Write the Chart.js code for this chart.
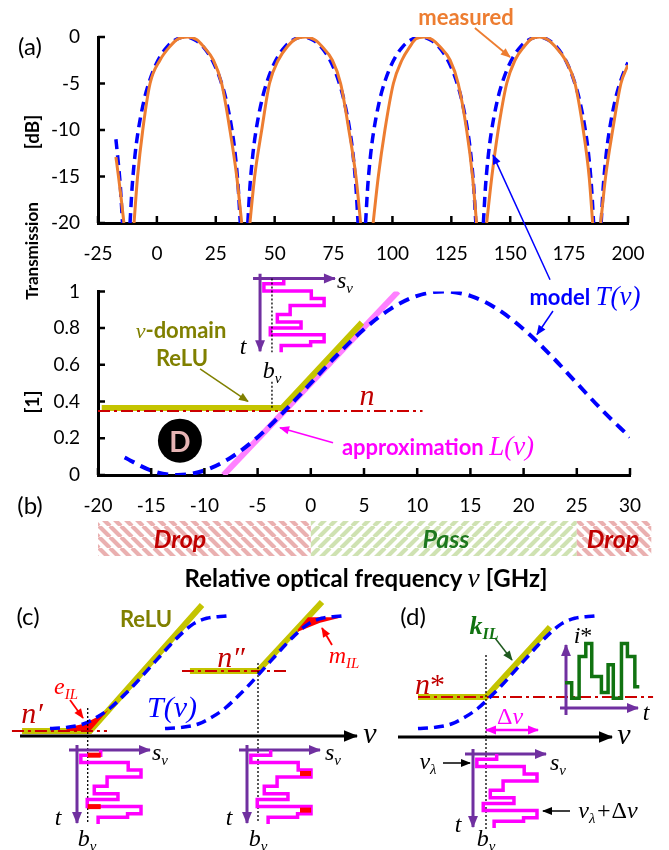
<!DOCTYPE html>
<html>
<head>
<meta charset="utf-8">
<title>Frequency-domain ReLU</title>
<script src="https://cdn.jsdelivr.net/npm/chart.js@4.4.1/dist/chart.umd.min.js"></script>
<style>
  body { margin: 0; background: #fff; }
  #fig { position: relative; width: 669px; height: 850px; overflow: hidden; font-family: Lato, sans-serif; }
  #fig canvas { position: absolute; left: 0; }
  .lbl { position: absolute; transform: translate(-50%, -50%); white-space: nowrap; line-height: 1; }
  .m { font-family: "Liberation Serif", serif; font-style: italic; font-weight: 400; }
  .up { font-style: normal; }
  .sb { font-size: 0.62em; position: relative; top: 0.32em; }
</style>
</head>
<body>
<div id="fig">
  <canvas id="chartA" width="669" height="300" style="top:0"></canvas>
  <canvas id="chartB" width="669" height="338" style="top:262px"></canvas>
  <canvas id="chartCD" width="669" height="250" style="top:600px"></canvas>
</div>
<script>
"use strict";

// ---------- (a) transmission in dB ----------
const xTicksA = [-25, 0, 25, 50, 75, 100, 125, 150, 175, 200];
const yTicksA = [-20, -15, -10, -5, 0];

const measFreq = [
  -17.4, -16.3, -15.1, -14.0, -11.9,
  -9.7, -8.2, -6.0, -2.9, 1.3, 5.6, 9.0, 13.0, 17.0, 19.7, 24.0, 27.5, 31.0, 33.9, 36.0, 37.8,
  39.5, 41.5, 44.5, 47.8, 51.5, 55.5, 59.0, 63.0, 67.0, 70.0, 74.5, 78.0, 81.5, 84.5, 86.5, 89.0,
  91.8, 94.0, 96.8, 100.4, 104.0, 107.5, 110.0, 113.5, 117.0, 120.0, 124.5, 127.9, 131.5, 134.0, 135.7, 138.0,
  140.0, 142.2, 144.9, 148.5, 152.0, 156.0, 159.0, 162.6, 166.0, 169.0, 173.5, 177.5, 181.0, 183.5, 185.0, 186.7,
  188.4, 190.5, 193.5, 197.0, 200.0
];
const measDb = [
  -12.9, -15, -17.5, -20, null,
  -20, -15, -10, -5, -2.5, -1, -0.2, 0, -0.3, -1, -2.5, -5, -10, -15, -20, null,
  -20, -15, -10, -5, -2.5, -1, -0.2, 0, -0.3, -1, -2.5, -5, -10, -15, -20, null,
  -20, -15, -10, -5, -2.5, -1, -0.2, 0, -0.3, -1, -2.5, -5, -10, -15, -20, null,
  -20, -15, -10, -5, -2.5, -1, -0.2, 0, -0.3, -1, -2.5, -5, -10, -15, -20, null,
  -20, -15, -10, -5, -3
];

const modelFreqA = [
  -17.4, -16.75, -15.5, -14.6, -12.9,
  -11.4, -10.5, -9.25, -8, -5.5, -3, -0.5, 2, 4.5, 7, 9.5, 12, 14.5, 17, 19.5, 22, 24.5, 27, 29.5, 32, 33.25, 34.5, 35.4, 37,
  38.6, 39.5, 40.75, 42, 44.5, 47, 49.5, 52, 54.5, 57, 59.5, 62, 64.5, 67, 69.5, 72, 74.5, 77, 79.5, 82, 83.25, 84.5, 85.4, 87,
  88.6, 89.5, 90.75, 92, 94.5, 97, 99.5, 102, 104.5, 107, 109.5, 112, 114.5, 117, 119.5, 122, 124.5, 127, 129.5, 132, 133.25, 134.5, 135.4, 137,
  138.6, 139.5, 140.75, 142, 144.5, 147, 149.5, 152, 154.5, 157, 159.5, 162, 164.5, 167, 169.5, 172, 174.5, 177, 179.5, 182, 183.25, 184.5, 185.4, 187,
  188.6, 189.5, 190.75, 192, 194.5, 197, 199.5, 200
];
const modelDbA = [
  -11.0, -12.6, -16.1, -20, null,
  -20, -16.1, -12.6, -10.2, -6.86, -4.62, -3.01, -1.84, -1.0, -0.44, -0.11, 0, -0.11, -0.44, -1.0, -1.84, -3.01, -4.62, -6.86, -10.2, -12.6, -16.1, -20, null,
  -20, -16.1, -12.6, -10.2, -6.86, -4.62, -3.01, -1.84, -1.0, -0.44, -0.11, 0, -0.11, -0.44, -1.0, -1.84, -3.01, -4.62, -6.86, -10.2, -12.6, -16.1, -20, null,
  -20, -16.1, -12.6, -10.2, -6.86, -4.62, -3.01, -1.84, -1.0, -0.44, -0.11, 0, -0.11, -0.44, -1.0, -1.84, -3.01, -4.62, -6.86, -10.2, -12.6, -16.1, -20, null,
  -20, -16.1, -12.6, -10.2, -6.86, -4.62, -3.01, -1.84, -1.0, -0.44, -0.11, 0, -0.11, -0.44, -1.0, -1.84, -3.01, -4.62, -6.86, -10.2, -12.6, -16.1, -20, null,
  -20, -16.1, -12.6, -10.2, -6.86, -4.62, -3.01, -2.75
];

// ---------- (b) linear transmission around one slope ----------
const xTicksB = [-20, -15, -10, -5, 0, 5, 10, 15, 20, 25, 30];
const yTicksB = [0, 0.2, 0.4, 0.6, 0.8, 1];
const freqB = [-17.5, -15, -12.5, -10, -7.5, -5, -2.5, 0, 2.5, 5, 7.5, 10, 12.5, 15, 17.5, 20, 22.5, 25, 27.5, 30];
const transB = [0.0955, 0.0245, 0, 0.0245, 0.0955, 0.206, 0.346, 0.5, 0.655, 0.794, 0.905, 0.976, 1, 0.976, 0.905, 0.794, 0.655, 0.5, 0.346, 0.206];
const approxFreq = [-8.2, 8.2];
const approxT = [0, 1];
const reluFreq = [-19.65, -2.7, 4.8];
const reluT = [0.365, 0.365, 0.83];
const noiseFreq = [-20, 10.5];
const noiseT = [0.348, 0.348];
const biasFreq = -3.65;
const bandFrom = [-20, 0, 25];
const bandTo = [0, 25, 32];
const bandPass = [false, true, false];

// input signal s_v(t): level per time slot, slot edges (both normalised)
const sigLevel = [0.37, 0.06, 0.8, 1.0, 0.47, 0.27, 0.64, 0.16, 1.0, 0.79, 0.33];
const sigTime = [0, 0.07, 0.17, 0.27, 0.365, 0.49, 0.59, 0.67, 0.765, 0.86, 0.91, 1];
// output i*(t)
const outLevel = [0.39, 0.15, 0.8, 1.0, 0.49, 0.24, 0.67, 0.15, 1.0, 0.8, 0.33];
const outTime = [0, 0.09, 0.19, 0.28, 0.36, 0.49, 0.58, 0.65, 0.76, 0.84, 0.94, 1];

// ---------- (c), (d) schematic slope T(v) ----------
const slopeU = [0, 0.094, 0.188, 0.264, 0.339, 0.414, 0.471, 0.546, 0.603, 0.678, 0.734, 0.810, 0.885, 1.0];
const slopeT = [0, 0.01, 0.04, 0.10, 0.18, 0.29, 0.38, 0.51, 0.61, 0.74, 0.83, 0.93, 0.98, 1.0];
const reluCL = { u: [-0.158, 0.226, 0.859], t: [-0.022, -0.022, 1.098] };
const noiseCL = { u: [-0.215, 0.322], t: [-0.022, -0.022] };
const reluCR = { u: [0.141, 0.525, 0.887], t: [0.511, 0.511, 1.124] };
const noiseCR = { u: [0.096, 0.689], t: [0.511, 0.511] };
const reluD = { u: [0, 0.384, 0.746], t: [0.28, 0.28, 0.902] };
const noiseD = { u: [0, 1.328], t: [0.28, 0.28] };
const errorIL = { u: [0.094, 0.188, 0.264, 0.33, 0.226, 0.094], t: [0.01, 0.04, 0.10, 0.165, -0.022, -0.022] };
const marginIL = { u: [0.75, 0.808, 1.0, 0.876, 0.75], t: [0.88, 0.99, 0.99, 0.94, 0.86] };

const BLUE = '#0000ff', ORANGE = '#ed7d31', OLIVE = '#c4c400', OLIVE_TXT = '#808000';
const MAGENTA = '#ff00ff', PINK = '#ff80ff', RED = '#cc0000', PURPLE = '#7030a0', GREEN = '#117311';
const DASH_DOT = [12, 4, 3, 4];

Chart.defaults.font.family = 'Lato';
Chart.defaults.color = '#000';

function pts(xs, ys) {
  return xs.map((x, i) => ({ x: x, y: ys[i] }));
}

function seg(points, color, width, more) {
  return Object.assign({
    data: points, borderColor: color, backgroundColor: color, borderWidth: width,
    pointRadius: 0, fill: false, tension: 0
  }, more || {});
}

// step signal with time running downwards (sSpan across, tSpan down)
function stepDown(levels, times, ox, oy, sSpan, tSpan) {
  const out = [];
  levels.forEach((l, k) => {
    out.push({ x: ox + l * sSpan, y: oy + times[k] * tSpan });
    out.push({ x: ox + l * sSpan, y: oy + times[k + 1] * tSpan });
  });
  return out;
}

// step signal with time running to the right
function stepRight(levels, times, ox, oy, sSpan, tSpan) {
  const out = [];
  levels.forEach((l, k) => {
    out.push({ x: ox + times[k] * tSpan, y: oy - l * sSpan });
    out.push({ x: ox + times[k + 1] * tSpan, y: oy - l * sSpan });
  });
  return out;
}

const arrowHeads = {
  id: 'arrowHeads',
  afterDatasetsDraw(chart) {
    const ctx = chart.ctx;
    chart.data.datasets.forEach((ds, i) => {
      if (!ds.arrow) return;
      const p = chart.getDatasetMeta(i).data;
      const n = p.length;
      const size = ds.arrowSize || 9;
      const head = (tip, from) => {
        const a = Math.atan2(tip.y - from.y, tip.x - from.x);
        ctx.save();
        ctx.translate(tip.x, tip.y);
        ctx.rotate(a);
        ctx.beginPath();
        ctx.moveTo(1, 0);
        ctx.lineTo(-size, size * 0.45);
        ctx.lineTo(-size, -size * 0.45);
        ctx.closePath();
        ctx.fillStyle = ds.borderColor;
        ctx.fill();
        ctx.restore();
      };
      head(p[n - 1], p[n - 2]);
      if (ds.arrow === 'both') head(p[0], p[1]);
    });
  }
};

// tick marks pointing into the plot
const innerTicks = {
  id: 'innerTicks',
  afterDraw(chart) {
    const { ctx, chartArea: a, scales: { x, y } } = chart;
    ctx.save();
    ctx.strokeStyle = '#000';
    ctx.lineWidth = 2.5;
    ctx.beginPath();
    x.ticks.forEach(t => {
      const px = x.getPixelForValue(t.value);
      ctx.moveTo(px, a.bottom);
      ctx.lineTo(px, a.bottom - 7);
    });
    y.ticks.forEach(t => {
      const py = y.getPixelForValue(t.value);
      ctx.moveTo(a.left, py);
      ctx.lineTo(a.left + 7, py);
    });
    ctx.stroke();
    ctx.restore();
  }
};

function hatch(ctx, color, rising) {
  const s = 11;
  const c = document.createElement('canvas');
  c.width = c.height = s;
  const g = c.getContext('2d');
  g.strokeStyle = color;
  g.lineWidth = 4.2;
  g.beginPath();
  for (let k = -1; k <= 1; k++) {
    if (rising) { g.moveTo(k * s, s); g.lineTo(k * s + s, 0); }
    else { g.moveTo(k * s, 0); g.lineTo(k * s + s, s); }
  }
  g.stroke();
  return ctx.createPattern(c, 'repeat');
}

const passBands = {
  id: 'passBands',
  afterDraw(chart) {
    const { ctx, chartArea: a, scales: { x } } = chart;
    bandFrom.forEach((f, i) => {
      const x1 = x.getPixelForValue(f);
      const x2 = x.getPixelForValue(bandTo[i]);
      ctx.fillStyle = bandPass[i] ? hatch(ctx, '#cfe2b2', true) : hatch(ctx, '#eab0b0', false);
      ctx.fillRect(x1, a.bottom + 46, x2 - x1, 35);
    });
  }
};

function axisOpts(ticksList, min, max, side, size) {
  return {
    type: 'linear', min: min, max: max,
    afterBuildTicks: s => { s.ticks = ticksList.map(v => ({ value: v })); },
    afterFit: s => { if (side === 'x') s.height = size; else s.width = size; },
    ticks: {
      autoSkip: false, maxRotation: 0, padding: side === 'x' ? 19 : 18, font: { size: 19 }, color: '#000',
      callback: v => String(Math.round(v * 10) / 10)
    },
    grid: { display: false, drawTicks: false },
    border: { display: true, width: 3, color: '#000' }
  };
}

const baseOpts = {
  responsive: false, animation: false, events: [],
  plugins: { legend: { display: false }, tooltip: { enabled: false } },
  elements: { point: { radius: 0 } }
};

// ---------- chart (a) ----------
new Chart(document.getElementById('chartA'), {
  type: 'line',
  data: {
    datasets: [
      seg([{ x: 135.0, y: 0.97 }, { x: 149.9, y: -2.15 }], ORANGE, 1.8, { arrow: 'end', clip: false }),
      seg([{ x: 166.9, y: -26.1 }, { x: 142.7, y: -12.7 }], BLUE, 1.5, { arrow: 'end', clip: false }),
      seg(pts(measFreq, measDb), ORANGE, 3, { cubicInterpolationMode: 'monotone', spanGaps: false }),
      seg(pts(modelFreqA, modelDbA), BLUE, 3.5, { borderDash: [10, 6], cubicInterpolationMode: 'monotone', spanGaps: false })
    ]
  },
  options: Object.assign({}, baseOpts, {
    layout: { padding: { left: 0, right: 41, top: 37, bottom: 0 } },
    scales: {
      x: axisOpts(xTicksA, -25, 200, 'x', 77),
      y: axisOpts(yTicksA, -20, 0, 'y', 98)
    }
  }),
  plugins: [arrowHeads, innerTicks]
});

// ---------- chart (b) ----------
const insetB = { ox: -4.77, oy: 1.07, sSpan: 6.02, tSpan: -0.401 };
new Chart(document.getElementById('chartB'), {
  type: 'line',
  data: {
    datasets: [
      seg([{ x: 2.09, y: 0.176 }, { x: -2.89, y: 0.257 }], MAGENTA, 1.5, { arrow: 'end', clip: false }),
      seg([{ x: -10.41, y: 0.578 }, { x: -5.9, y: 0.401 }], OLIVE_TXT, 1.5, { arrow: 'end', clip: false }),
      seg([{ x: 22.76, y: 0.893 }, { x: 21.26, y: 0.765 }], BLUE, 1.5, { arrow: 'end', clip: false }),
      seg([{ x: biasFreq, y: 1.07 }, { x: biasFreq, y: 0.668 }], '#000', 1.3, { borderDash: [2, 2], clip: false }),
      seg([{ x: biasFreq, y: 0.508 }, { x: biasFreq, y: 0.365 }], '#000', 1.3, { borderDash: [2, 2], clip: false }),
      seg([{ x: -5.43, y: 1.07 }, { x: 2.27, y: 1.07 }], PURPLE, 3, { arrow: 'end', arrowSize: 11, clip: false }),
      seg([{ x: -4.77, y: 1.096 }, { x: -4.77, y: 0.674 }], PURPLE, 3, { arrow: 'end', arrowSize: 11, clip: false }),
      seg(stepDown(sigLevel, sigTime, insetB.ox, insetB.oy, insetB.sSpan, insetB.tSpan), MAGENTA, 3.5, { clip: false }),
      seg([{ x: -12.3, y: 0.187 }], '#000', 0, { showLine: false, pointRadius: 22, pointBackgroundColor: '#000', pointBorderWidth: 0 }),
      seg(pts(freqB, transB), BLUE, 4, { borderDash: [11, 7], cubicInterpolationMode: 'monotone' }),
      seg(pts(noiseFreq, noiseT), RED, 2, { borderDash: DASH_DOT }),
      seg(pts(reluFreq, reluT), OLIVE, 6),
      seg(pts(approxFreq, approxT), PINK, 6)
    ]
  },
  options: Object.assign({}, baseOpts, {
    layout: { padding: { left: 0, right: 39, top: 26, bottom: 0 } },
    scales: {
      x: axisOpts(xTicksB, -20, 30, 'x', 125),
      y: axisOpts(yTicksB, 0, 1, 'y', 98)
    }
  }),
  plugins: [arrowHeads, innerTicks, passBands]
});

// ---------- charts (c) and (d): schematic in layout units ----------
const panel = {
  cL: { x0: 50, y0: 728.5, w: 177, h: 112.5 },
  cR: { x0: 165, y0: 728.5, w: 177, h: 112.5 },
  d: { x0: 418, y0: 728.5, w: 177, h: 112.5 }
};
const inset = { cL: { ox: 77, oy: 750 }, cR: { ox: 247, oy: 750 }, d: { ox: 473, oy: 754 } };
const bias = { cL: [87.7, 708, 823], cR: [258, 663, 823], d: [486, 655, 830] };
const SIG_S = 64, SIG_T = 74;

function onPanel(p, u, t) {
  return u.map((v, i) => ({ x: p.x0 + v * p.w, y: p.y0 - t[i] * p.h }));
}

function insetAxes(q) {
  return [
    seg([{ x: q.ox - 8, y: q.oy }, { x: q.ox + 73, y: q.oy }], PURPLE, 3, { arrow: 'end', arrowSize: 11 }),
    seg([{ x: q.ox, y: q.oy - 5 }, { x: q.ox, y: q.oy + 73 }], PURPLE, 3, { arrow: 'end', arrowSize: 11 })
  ];
}

const sigCL = stepDown(sigLevel, sigTime, inset.cL.ox, inset.cL.oy, SIG_S, SIG_T);
const sigCR = stepDown(sigLevel, sigTime, inset.cR.ox, inset.cR.oy, SIG_S, SIG_T);
const sigD = stepDown(sigLevel, sigTime, inset.d.ox, inset.d.oy, SIG_S, SIG_T);
const outD = stepRight(outLevel, outTime, 565, 708, 64.5, 74.3);

const redMarks = [
  seg([{ x: bias.cL[0], y: inset.cL.oy + sigTime[1] * SIG_T }, { x: bias.cL[0] + 13, y: inset.cL.oy + sigTime[1] * SIG_T }], '#ff0000', 5),
  seg([{ x: bias.cL[0], y: inset.cL.oy + sigTime[8] * SIG_T }, { x: bias.cL[0] + 13, y: inset.cL.oy + sigTime[8] * SIG_T }], '#ff0000', 5),
  seg([{ x: inset.cR.ox + SIG_S - 11, y: inset.cR.oy + (sigTime[3] + sigTime[4]) / 2 * SIG_T }, { x: inset.cR.ox + SIG_S, y: inset.cR.oy + (sigTime[3] + sigTime[4]) / 2 * SIG_T }], '#ff0000', 5),
  seg([{ x: inset.cR.ox + SIG_S - 11, y: inset.cR.oy + (sigTime[8] + sigTime[9]) / 2 * SIG_T }, { x: inset.cR.ox + SIG_S, y: inset.cR.oy + (sigTime[8] + sigTime[9]) / 2 * SIG_T }], '#ff0000', 5)
];

const dotted = k => seg([{ x: bias[k][0], y: bias[k][1] }, { x: bias[k][0], y: bias[k][2] }], '#000', 1.3, { borderDash: [2, 2] });
const slope = k => seg(onPanel(panel[k], slopeU, slopeT), BLUE, 3.5, { borderDash: [10, 6], cubicInterpolationMode: 'monotone' });

const cdSets = [
  seg([{ x: 70, y: 700 }, { x: 83, y: 718 }], '#ff0000', 1.8, { arrow: 'end' }),
  seg([{ x: 332, y: 645 }, { x: 322, y: 628 }], '#ff0000', 1.8, { arrow: 'end' }),
  seg([{ x: 495, y: 638 }, { x: 512, y: 660 }], '#1f5a1f', 1.5, { arrow: 'end' }),
  seg([{ x: 443, y: 763 }, { x: 470, y: 763 }], '#000', 1.5, { arrow: 'end' }),
  seg([{ x: 570, y: 811 }, { x: 543, y: 811 }], '#000', 1.5, { arrow: 'end' }),
  seg([{ x: 486, y: 730 }, { x: 538, y: 730 }], MAGENTA, 2.5, { arrow: 'both', arrowSize: 10 }),
  ...redMarks,
  seg(sigCL, MAGENTA, 3.5), seg(sigCR, MAGENTA, 3.5), seg(sigD, MAGENTA, 3.5),
  seg(outD, GREEN, 3.5),
  ...insetAxes(inset.cL), ...insetAxes(inset.cR), ...insetAxes(inset.d),
  seg([{ x: 566, y: 715 }, { x: 566, y: 645 }], PURPLE, 3, { arrow: 'end', arrowSize: 11 }),
  seg([{ x: 560, y: 708 }, { x: 638, y: 708 }], PURPLE, 3, { arrow: 'end', arrowSize: 11 }),
  dotted('cL'), dotted('cR'), dotted('d'),
  slope('cL'), slope('cR'), slope('d'),
  seg(onPanel(panel.cL, noiseCL.u, noiseCL.t), RED, 2, { borderDash: DASH_DOT }),
  seg(onPanel(panel.cR, noiseCR.u, noiseCR.t), RED, 2, { borderDash: DASH_DOT }),
  seg(onPanel(panel.d, noiseD.u, noiseD.t), RED, 2, { borderDash: DASH_DOT }),
  seg(onPanel(panel.cL, errorIL.u, errorIL.t), '#ff0000', 0, { fill: 'shape' }),
  seg(onPanel(panel.cR, marginIL.u, marginIL.t), '#ff0000', 0, { fill: 'shape' }),
  seg(onPanel(panel.cL, reluCL.u, reluCL.t), OLIVE, 6),
  seg(onPanel(panel.cR, reluCR.u, reluCR.t), OLIVE, 6),
  seg(onPanel(panel.d, reluD.u, reluD.t), OLIVE, 6),
  seg([{ x: 20, y: 736 }, { x: 357, y: 736 }], '#000', 3, { arrow: 'end', arrowSize: 13 }),
  seg([{ x: 398, y: 737 }, { x: 612, y: 737 }], '#000', 3, { arrow: 'end', arrowSize: 13 })
];
cdSets.forEach(ds => { ds.clip = false; });

new Chart(document.getElementById('chartCD'), {
  type: 'line',
  data: { datasets: cdSets },
  options: Object.assign({}, baseOpts, {
    layout: { padding: 0 },
    scales: {
      x: { type: 'linear', display: false, min: 0, max: 669 },
      y: { type: 'linear', display: false, min: 600, max: 850, reverse: true }
    }
  }),
  plugins: [arrowHeads]
});

// ---------- text ----------
const sub = s => '<span class="sb">' + s + '</span>';
const nu = '<span class="m">ν</span>';
const ROT = 'transform:translate(-50%,-50%) rotate(-90deg);';
const BOLD = 'font-weight:700;';
const SER = 'font-family:"Liberation Serif",serif;font-style:italic;';
const BAND = BOLD + 'font-style:italic;font-size:25px;';
const texts = [
  ['(a)', 30, 46, 'font-size:24px'],
  ['(b)', 30, 505, 'font-size:24px'],
  ['(c)', 28, 616, 'font-size:24px'],
  ['(d)', 413, 616, 'font-size:24px'],
  ['[dB]', 31, 132, BOLD + ROT + 'font-size:19px'],
  ['Transmission', 31, 251, BOLD + ROT + 'font-size:17px'],
  ['[1]', 31, 402, BOLD + ROT + 'font-size:19px'],
  ['measured', 466, 17, BOLD + 'font-size:22px;color:' + ORANGE],
  ['model <span class="m" style="font-size:27px">T(ν)</span>', 585, 296, BOLD + 'font-size:22px;color:' + BLUE],
  [nu + '-domain', 181, 330, BOLD + 'font-size:22px;color:' + OLIVE_TXT],
  ['ReLU', 182, 358, BOLD + 'font-size:22px;color:' + OLIVE_TXT],
  ['n', 367, 395, SER + 'font-size:30px;color:#c00000'],
  ['approximation <span class="m" style="font-size:27px">L(ν)</span>', 438, 446, BOLD + 'font-size:22px;color:' + MAGENTA],
  ['D', 180, 441, BOLD + 'font-size:28px;color:#e6b4b4'],
  ['t', 243, 346, SER + 'font-size:24px'],
  ['s' + sub('ν'), 345, 280, SER + 'font-size:24px'],
  ['b' + sub('ν'), 272, 370, SER + 'font-size:24px'],
  ['Drop', 180, 538, BAND + 'color:#c00000'],
  ['Pass', 446, 538, BAND + 'color:#1e781e'],
  ['Drop', 613, 538, BAND + 'color:#c00000'],
  ['Relative optical frequency <span class="m" style="font-size:1.15em">ν</span> [GHz]', 366, 578, BOLD + 'font-size:24px'],
  ['ReLU', 146, 619, BOLD + 'font-size:22px;color:' + OLIVE_TXT],
  ['n′', 32, 713, SER + 'font-size:30px;color:#c00000'],
  ['e' + sub('IL'), 66, 686, SER + 'font-size:24px;color:#ff0000'],
  ['T(ν)', 172, 707, SER + 'font-size:30px;color:' + BLUE],
  ['n″', 231, 657, SER + 'font-size:30px;color:#c00000'],
  ['m' + sub('IL'), 344, 655, SER + 'font-size:24px;color:#ff0000'],
  ['t', 58, 817, SER + 'font-size:24px'],
  ['s' + sub('ν'), 160, 752, SER + 'font-size:24px'],
  ['b' + sub('ν'), 87, 838, SER + 'font-size:24px'],
  ['t', 229, 817, SER + 'font-size:24px'],
  ['s' + sub('ν'), 333, 752, SER + 'font-size:24px'],
  ['b' + sub('ν'), 258, 838, SER + 'font-size:24px'],
  ['ν', 370, 733, SER + 'font-size:30px'],
  ['k' + sub('IL'), 484, 626, SER + 'font-weight:700;font-size:26px;color:' + GREEN],
  ['n<span class="up">*</span>', 430, 684, SER + 'font-size:30px;color:#c00000'],
  ['<span class="up">Δ</span>ν', 510, 716, SER + 'font-size:24px;color:' + MAGENTA],
  ['i<span class="up">*</span>', 583, 635, SER + 'font-size:24px'],
  ['t', 646, 712, SER + 'font-size:24px'],
  ['ν', 624, 734, SER + 'font-size:30px'],
  ['s' + sub('ν'), 558, 762, SER + 'font-size:24px'],
  ['t', 458, 824, SER + 'font-size:24px'],
  ['b' + sub('ν'), 486, 838, SER + 'font-size:24px'],
  ['ν' + sub('λ'), 428, 761, SER + 'font-size:24px'],
  ['ν' + sub('λ') + '+<span class="up">Δ</span>ν', 608, 810, SER + 'font-size:24px']
];
const fig = document.getElementById('fig');
texts.forEach(([html, x, y, css]) => {
  const d = document.createElement('div');
  d.className = 'lbl';
  d.innerHTML = html;
  d.style.cssText = 'left:' + x + 'px;top:' + y + 'px;' + css;
  fig.appendChild(d);
});
</script>
</body>
</html>
